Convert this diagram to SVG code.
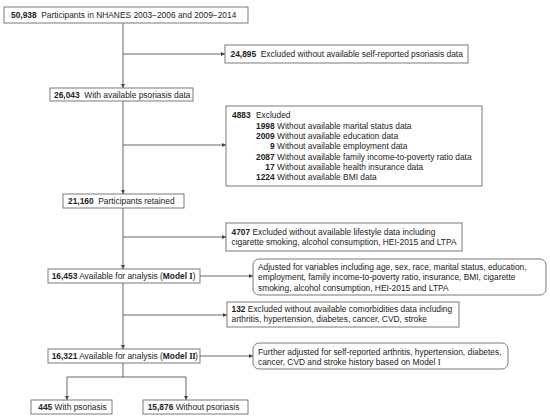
<svg xmlns="http://www.w3.org/2000/svg" width="550" height="418" viewBox="0 0 550 418">
<defs>
<marker id="ah" viewBox="0 0 6 6" refX="6" refY="3" markerWidth="4" markerHeight="4" markerUnits="userSpaceOnUse" orient="auto">
<path d="M0,0 L6,3 L0,6 Z" fill="#444"/>
</marker>
<style>
.box{fill:#fff;stroke:#6a6a6a;stroke-width:0.9}
.t{font-family:"Liberation Sans",Arial,"Noto Sans CJK SC",sans-serif;font-size:8.4px;fill:#222}
.b{font-weight:bold}
.r{font-family:"Liberation Serif","Times New Roman",serif;font-size:8.8px}
.c{fill:none;stroke:#555;stroke-width:0.9}
</style>
</defs>
<rect width="550" height="418" fill="#fff"/>
<g id="connectors">
<path class="c" d="M123,23 V88" marker-end="url(#ah)"/>
<path class="c" d="M123,54 H225" marker-end="url(#ah)"/>
<path class="c" d="M123,101 V194" marker-end="url(#ah)"/>
<path class="c" d="M123,145 H226" marker-end="url(#ah)"/>
<path class="c" d="M123,208 V269" marker-end="url(#ah)"/>
<path class="c" d="M123,237 H226" marker-end="url(#ah)"/>
<path class="c" d="M200,276 H253" marker-end="url(#ah)"/>
<path class="c" d="M123,283 V349" marker-end="url(#ah)"/>
<path class="c" d="M123,315 H227" marker-end="url(#ah)"/>
<path class="c" d="M200,356 H253" marker-end="url(#ah)"/>
<path class="c" d="M123,363 V377 M67,377 H186"/>
<path class="c" d="M67,377 V400" marker-end="url(#ah)"/>
<path class="c" d="M186,377 V400" marker-end="url(#ah)"/>
</g>
<g id="n1">
<rect class="box" x="4" y="7" width="244" height="16"/>
<text class="t" x="11" y="18"><tspan class="b">50,938</tspan> <tspan dx="2.3">Participants in NHANES 2003−2006 and 2009−2014</tspan></text>
</g>
<g id="n2">
<rect class="box" x="225" y="45" width="243" height="18"/>
<text class="t" x="230.5" y="57"><tspan class="b">24,895</tspan> <tspan dx="2.3">Excluded without available self-reported psoriasis data</tspan></text>
</g>
<g id="n3">
<rect class="box" x="50" y="88" width="143" height="13"/>
<text class="t" x="54" y="97.5"><tspan class="b">26,043</tspan> <tspan dx="2.3">With available psoriasis data</tspan></text>
</g>
<g id="n4">
<rect class="box" x="226" y="106" width="256" height="80"/>
<text class="t b" x="232" y="118">4883</text>
<text class="t" x="256" y="118">Excluded</text>
<text class="t b" x="274.7" y="129" text-anchor="end">1998</text>
<text class="t" x="277" y="129">Without available marital status data</text>
<text class="t b" x="274.7" y="139" text-anchor="end">2009</text>
<text class="t" x="277" y="139">Without available education data</text>
<text class="t b" x="274.7" y="149" text-anchor="end">9</text>
<text class="t" x="277" y="149">Without available employment data</text>
<text class="t b" x="274.7" y="159.5" text-anchor="end">2087</text>
<text class="t" x="277" y="159.5">Without available family income-to-poverty ratio data</text>
<text class="t b" x="274.7" y="169.5" text-anchor="end">17</text>
<text class="t" x="277" y="169.5">Without available health insurance data</text>
<text class="t b" x="274.7" y="180" text-anchor="end">1224</text>
<text class="t" x="277" y="180">Without available BMI data</text>
</g>
<g id="n5">
<rect class="box" x="63" y="194" width="121" height="14"/>
<text class="t" x="68" y="204.2"><tspan class="b">21,160</tspan> <tspan dx="2.3">Participants retained</tspan></text>
</g>
<g id="n6">
<rect class="box" x="226" y="223" width="236" height="28"/>
<text class="t" x="231.5" y="234.5"><tspan class="b">4707</tspan> Excluded without available lifestyle data including</text>
<text class="t" x="231.5" y="244.5">cigarette smoking, alcohol consumption, HEI-2015 and LTPA</text>
</g>
<g id="n7">
<rect class="box" x="48" y="269" width="152" height="14"/>
<text class="t" x="51.7" y="279.2"><tspan class="b">16,453</tspan> Available for analysis (<tspan class="b">Model <tspan class="r">I</tspan></tspan>)</text>
</g>
<g id="n8">
<rect class="box" x="253" y="259" width="293" height="36" rx="6"/>
<text class="t" x="258" y="269.5">Adjusted for variables including age, sex, race, marital status, education,</text>
<text class="t" x="258" y="280">employment, family income-to-poverty ratio, insurance, BMI, cigarette</text>
<text class="t" x="258" y="290.5">smoking, alcohol consumption, HEI-2015 and LTPA</text>
</g>
<g id="n9">
<rect class="box" x="227" y="302" width="232" height="25"/>
<text class="t" x="231.5" y="311.5"><tspan class="b">132</tspan> Excluded without available comorbidities data including</text>
<text class="t" x="231.5" y="321.5">arthritis, hypertension, diabetes, cancer, CVD, stroke</text>
</g>
<g id="n10">
<rect class="box" x="48" y="349" width="152" height="14"/>
<text class="t" x="51.7" y="359.2"><tspan class="b">16,321</tspan> Available for analysis (<tspan class="b">Model <tspan class="r" letter-spacing="-0.6">II</tspan></tspan>)</text>
</g>
<g id="n11">
<rect class="box" x="253" y="343" width="255" height="26" rx="6"/>
<text class="t" x="258" y="354.5">Further adjusted for self-reported arthritis, hypertension, diabetes,</text>
<text class="t" x="258" y="365">cancer, CVD and stroke history based on Model <tspan class="r">I</tspan></text>
</g>
<g id="n12">
<rect class="box" x="31" y="400" width="81" height="14"/>
<text class="t" x="38.3" y="410.2"><tspan class="b">445</tspan> With psoriasis</text>
</g>
<g id="n13">
<rect class="box" x="143" y="400" width="105" height="14"/>
<text class="t" x="147.7" y="410.2"><tspan class="b">15,876</tspan> Without psoriasis</text>
</g>
</svg>
